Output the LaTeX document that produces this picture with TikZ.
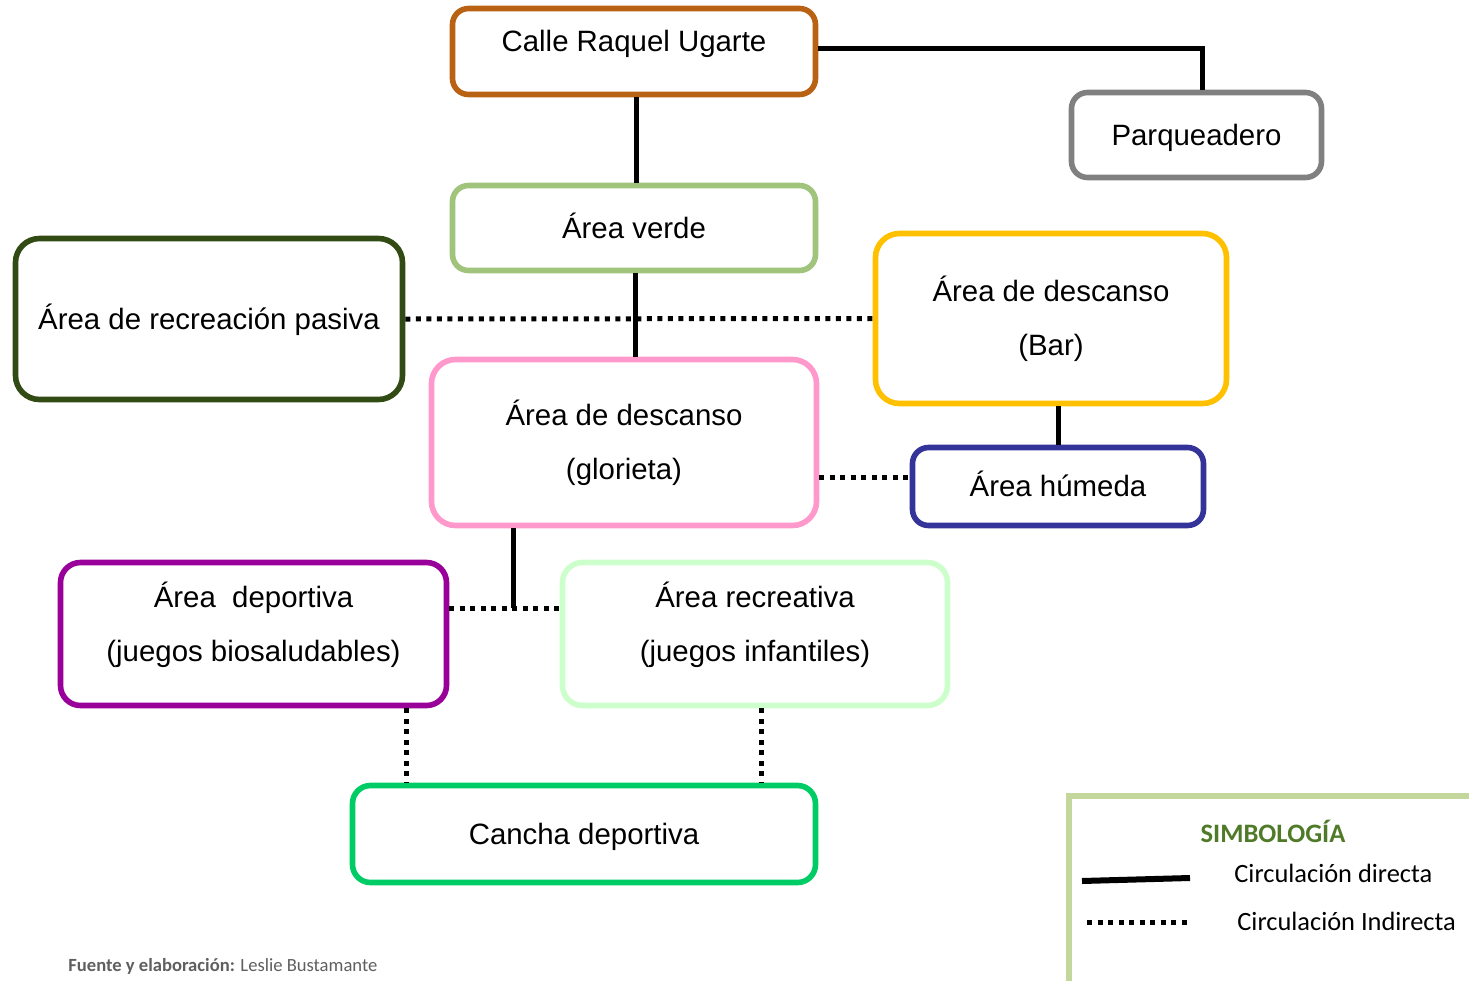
\documentclass[tikz,border=0pt]{standalone}
\usepackage{fontspec}
\setmainfont{Liberation Sans}
\newfontfamily\calibri{Carlito}

\definecolor{cCalle}{RGB}{186,98,20}
\definecolor{cParq}{RGB}{128,128,128}
\definecolor{cVerde}{RGB}{160,196,124}
\definecolor{cPasiva}{RGB}{50,75,20}
\definecolor{cBar}{RGB}{255,192,0}
\definecolor{cGlorieta}{RGB}{255,153,204}
\definecolor{cHumeda}{RGB}{51,51,153}
\definecolor{cDeportiva}{RGB}{153,0,153}
\definecolor{cRecreativa}{RGB}{204,255,204}
\definecolor{cCancha}{RGB}{0,204,102}
\definecolor{cLeyenda}{RGB}{195,214,155}
\definecolor{cSimbolo}{RGB}{79,122,40}
\definecolor{cFuente}{RGB}{95,95,95}

\begin{document}
\begin{tikzpicture}[x=0.5pt, y=-0.5pt,
  area/.style={draw=#1, line width=2.8pt, rounded corners=8pt, align=center,
    fill=white, font=\fontsize{14.7}{27}\selectfont},
  oneline/.style={text height=12pt, text depth=2pt},
  direct/.style={line width=2.5pt, black},
  indirect/.style={line width=2.5pt, black, dash pattern=on 2.5pt off 2.75pt},
  legtext/.style={font=\calibri\fontsize{13.2}{16}\selectfont, text height=9pt, text depth=2.5pt, inner sep=0pt}]
  \useasboundingbox (0,0) rectangle (1469,981);

  \node[area=cCalle, oneline, text depth=12.5pt, minimum width=181.5pt, minimum height=43pt] (calle) at (634,51.5) {Calle Raquel Ugarte};
  \node[area=cParq, oneline, minimum width=125pt, minimum height=42.5pt] (parq) at (1196.5,135) {Parqueadero};
  \node[area=cVerde, oneline, minimum width=181.5pt, minimum height=42.5pt] (verde) at (634,228) {Área verde};
  \node[area=cPasiva, oneline, rounded corners=12pt, minimum width=193.5pt, minimum height=80.5pt] (pasiva) at (209,319) {Área de recreación pasiva};
  \node[area=cBar, rounded corners=12pt, minimum width=175.5pt, minimum height=85pt] (bar) at (1051,318.5) {Área de descanso\\(Bar)};
  \node[area=cGlorieta, rounded corners=12pt, minimum width=192.5pt, minimum height=83pt] (glorieta) at (624,442.5) {Área de descanso\\(glorieta)};
  \node[area=cHumeda, oneline, minimum width=145.5pt, minimum height=39pt] (humeda) at (1058,486.5) {Área húmeda};
  \node[area=cDeportiva, rounded corners=10pt, text depth=12pt, minimum width=193pt, minimum height=71.5pt] (deportiva) at (253.5,634) {Área \ deportiva\\(juegos biosaludables)};
  \node[area=cRecreativa, rounded corners=10pt, text depth=12pt, minimum width=192.5pt, minimum height=71.5pt] (recreativa) at (755,634) {Área recreativa\\(juegos infantiles)};
  \node[area=cCancha, oneline, rounded corners=9pt, minimum width=231.5pt, minimum height=48.5pt] (cancha) at (584,834) {Cancha deportiva};

  \coordinate (junta) at (513,608);
  \coordinate (bajada1) at (406,0);
  \coordinate (bajada2) at (761,0);

  \draw[direct] ([yshift=1.75pt]calle.east) -| ([xshift=2.75pt]parq.north);
  \draw[direct] ([xshift=1pt]calle.south) -- ([xshift=1pt]verde.north);
  \draw[direct] ([xshift=0.5pt]verde.south) -- ([xshift=0.5pt]verde.south |- glorieta.north);
  \draw[direct] (humeda.north |- bar.south) -- (humeda.north);
  \draw[direct] (junta |- glorieta.south) -- (junta);

  \draw[indirect] (pasiva.east) -- (bar.west);
  \draw[indirect] ([yshift=4.75pt]humeda.west -| glorieta.east) -- ([yshift=4.75pt]humeda.west);
  \draw[indirect] (junta -| deportiva.east) -- (junta -| recreativa.west);
  \draw[indirect] (bajada1 |- deportiva.south) -- (bajada1 |- cancha.north);
  \draw[indirect] (bajada2 |- recreativa.south) -- (bajada2 |- cancha.north);

  % simbologia
  \draw[cLeyenda, line width=3pt] (1069,981) -- (1069,795.5) -- (1469,795.5);
  \node[legtext, text=cSimbolo, font=\calibri\bfseries\fontsize{13.3}{16}\selectfont] (simbologia) at (1273,836) {SIMBOLOGÍA};
  \node[legtext, anchor=west] (ldirecta) at (1234,876) {Circulación directa};
  \node[legtext, anchor=west] (lindirecta) at (1237,924) {Circulación Indirecta};
  \draw[direct, line width=3pt] (1082,881) -- (1190,878);
  \draw[indirect] (1087,922) -- (1190,922);

  \node[anchor=west, inner sep=0pt, text=cFuente, font=\calibri\fontsize{9.3}{11}\selectfont] (fuente) at (68,966) {\textbf{Fuente y elaboración:} Leslie Bustamante};
\end{tikzpicture}
\end{document}
